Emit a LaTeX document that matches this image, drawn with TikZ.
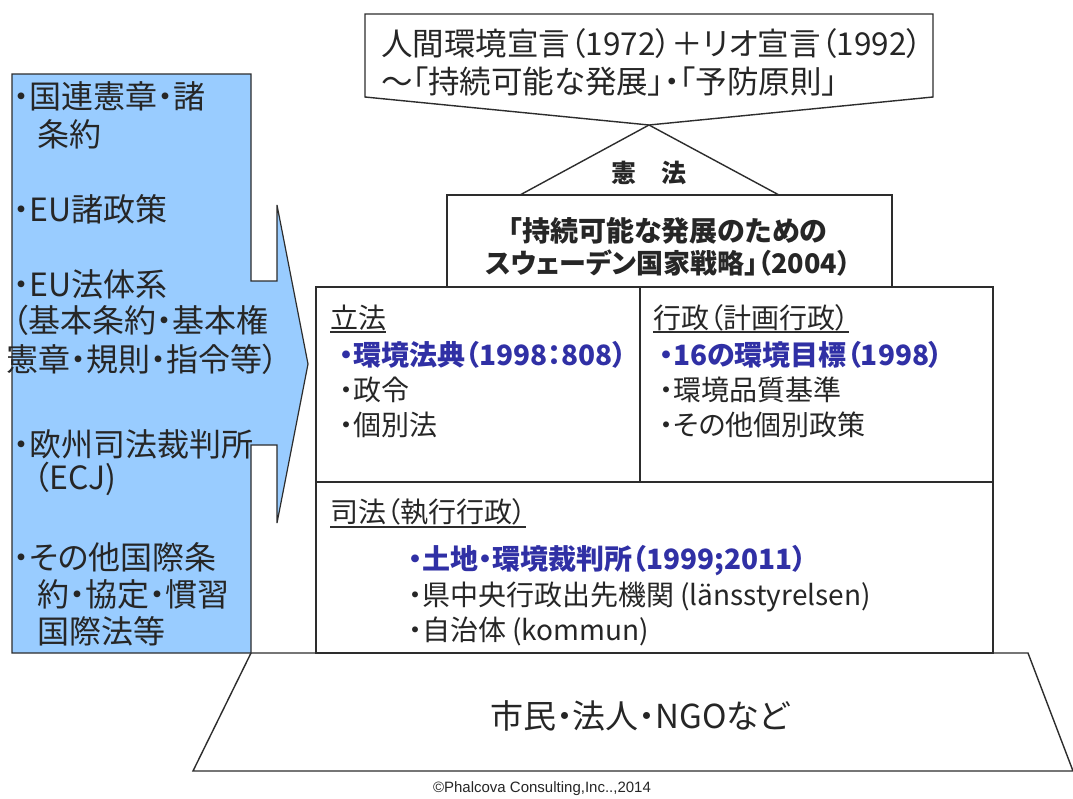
\documentclass[tikz,border=0pt]{standalone}
\usepackage{fontspec}
\setmainfont{Noto Sans CJK JP}[RawFeature=+palt]
\newfontfamily\cpyfont{Liberation Sans}
\definecolor{linecol}{RGB}{45,45,45}
\definecolor{bluefill}{RGB}{153,204,255}
\definecolor{bluetxt}{RGB}{48,48,165}
\begin{document}
\begin{tikzpicture}[x=1pt,y=-1pt,
  ln/.style={draw=linecol, line width=1.4pt, line join=miter},
  tx/.style={inner sep=0pt, anchor=base west, text=black!85},
  bl/.style={tx, font=\fontsize{32}{36}\selectfont},
  tp/.style={tx, font=\fontsize{31.5}{36}\selectfont},
  it/.style={tx, font=\fontsize{28}{32}\selectfont},
  hd/.style={tx, font=\fontsize{28}{32}\selectfont},
  bi/.style={tx, font=\fontsize{28}{32}\selectfont\bfseries, text=bluetxt},
  ul/.style={draw=linecol, line width=1.2pt}
]
\useasboundingbox (0,0) rectangle (1073,798);
\fill[white] (0,0) rectangle (1073,798);

% base trapezoid
\draw[ln] (251,653) -- (1028,653) -- (1073,771) -- (193,771) -- cycle;
% main box
\draw[ln] (316,287) rectangle (993,653);
\draw[ln] (316,482) -- (993,482);
\draw[ln] (640,287) -- (640,482);
% second box and triangle
\draw[ln] (447,195) rectangle (892,287);
\draw[ln] (520,195) -- (649,125) -- (779,195);
% top pentagon
\draw[ln, fill=white] (365,14) -- (933,14) -- (933,97) -- (649,125) -- (365,97) -- cycle;
% blue arrow callout
\draw[ln, fill=bluefill, line width=1.2pt] (12,74) -- (251,74) -- (251,281) -- (277,281) -- (277,205)
  -- (308,364) -- (277,523) -- (277,445) -- (251,445) -- (251,653) -- (12,653) -- cycle;

% blue list
\node[bl] (b1) at (13,108) {・国連憲章・諸};
\node[bl] (b2) at (37,146) {条約};
\node[bl] (b3) at (13,221) {・EU諸政策};
\node[bl] (b4) at (13,296) {・EU法体系};
\node[bl] (b5) at (12,332) {（基本条約・基本権};
\node[bl] (b6) at (6,371) {憲章・規則・指令等）};
\node[bl] (b7) at (13,456) {・欧州司法裁判所};
\node[bl] (b8) at (33,489) {（ECJ)};
\node[bl] (b9) at (13,569) {・その他国際条};
\node[bl] (b10) at (37,606) {約・協定・慣習};
\node[bl] (b11) at (37,643) {国際法等};

% top box text
\node[tp] (t1) at (381,55) {人間環境宣言（1972）＋リオ宣言（1992）};
\node[tp] (t2) at (381,93) {〜「持続可能な発展」・「予防原則」};
\node[tx, anchor=base, font=\fontsize{25}{30}\selectfont\bfseries] (kenpo) at (649,182) {憲\hspace{1em}法};
\node[tx, anchor=base, font=\fontsize{28}{32}\selectfont\bfseries] (s1) at (668,241) {「持続可能な発展のための};
\node[tx, anchor=base, font=\fontsize{27}{32}\selectfont\bfseries] (s2) at (668,273) {スウェーデン国家戦略」（2004）};

% legislation
\node[hd] (h1) at (330,328) {立法};
\draw[ul] ([yshift=-4pt]h1.base west) -- ([yshift=-4pt]h1.base east);
\node[bi] (l1) at (339,365) {・環境法典（1998：808）};
\node[it] (l2) at (339,400) {・政令};
\node[it] (l3) at (339,435) {・個別法};

% administration
\node[hd] (h2) at (653,328) {行政（計画行政）};
\draw[ul] ([yshift=-4pt]h2.base west) -- ([yshift=-4pt]h2.base east);
\node[bi] (r1) at (659,365) {・16の環境目標（1998）};
\node[it] (r2) at (659,400) {・環境品質基準};
\node[it] (r3) at (659,435) {・その他個別政策};

% judiciary
\node[hd] (h3) at (330,522) {司法（執行行政）};
\draw[ul] ([yshift=-5pt]h3.base west) -- ([yshift=-5pt]h3.base east);
\node[bi] (j1) at (408,569) {・土地・環境裁判所（1999;2011）};
\node[it] (j2) at (408,605) {・県中央行政出先機関 (länsstyrelsen)};
\node[it] (j3) at (408,640) {・自治体 (kommun)};

% citizens
\node[tx, anchor=base, font=\fontsize{33}{38}\selectfont] (cit) at (640,728) {市民・法人・NGOなど};
\node[tx, anchor=base, font=\cpyfont\fontsize{15}{18}\selectfont] (cpy) at (542,792) {©Phalcova Consulting,Inc..,2014};
\end{tikzpicture}
\end{document}
